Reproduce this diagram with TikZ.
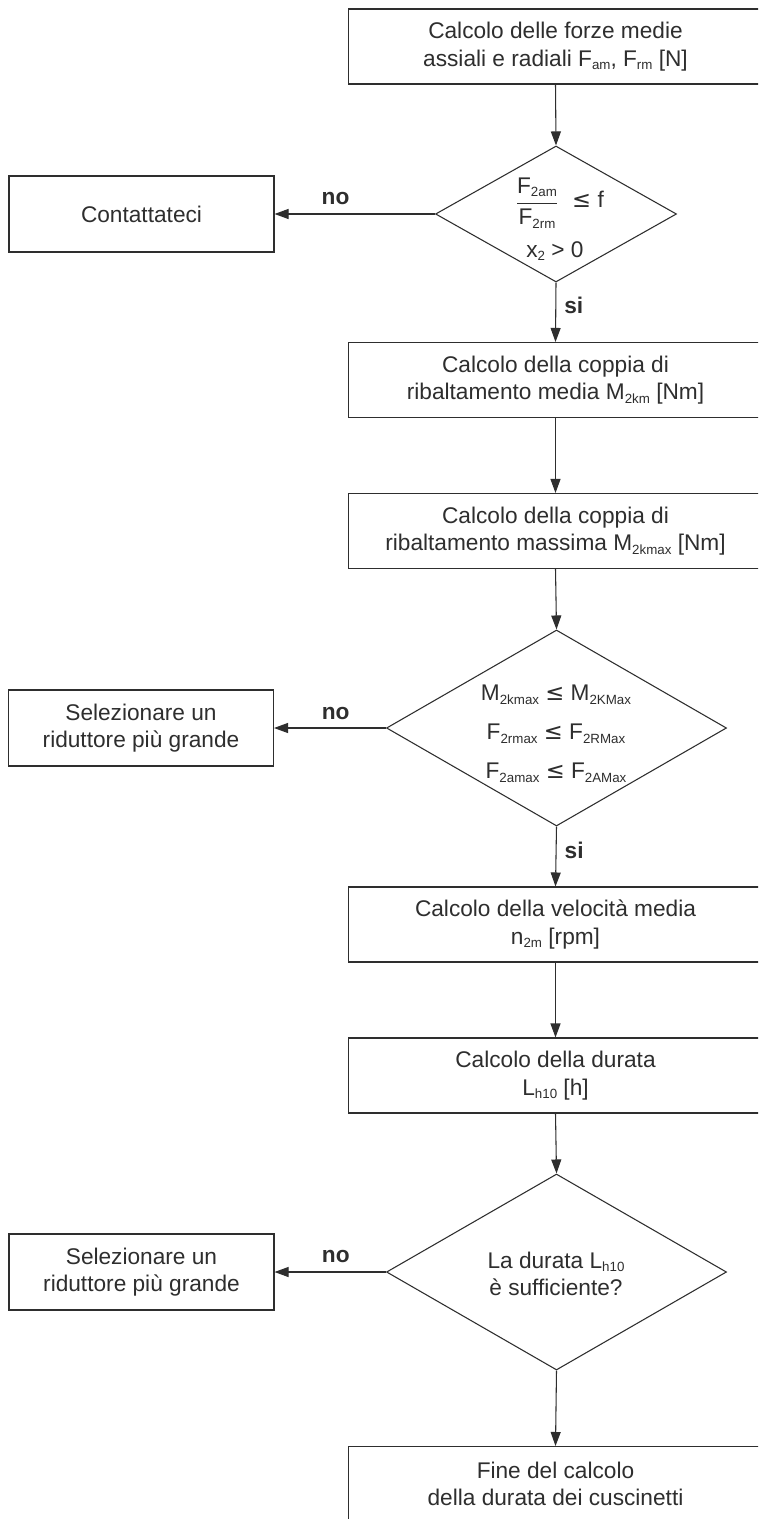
\documentclass[tikz,border=0pt]{standalone}
\usepackage{fontspec}
\setmainfont{Liberation Sans}
\newfontfamily\symfont{DejaVu Sans}
\usetikzlibrary{shapes.geometric,arrows.meta}
\definecolor{ink}{HTML}{2E2E2E}
\newcommand\lowsub[1]{\raisebox{-0.3ex}{\fontsize{10}{10}\selectfont #1}}
\newcommand\leqs{{\symfont ≤}}
\begin{document}
\begin{tikzpicture}[x=0.75pt,y=-0.75pt,
  every node/.style={text=ink, font=\fontsize{17}{20.7}\selectfont},
  box/.style={draw=ink, line width=0.8pt, minimum width=310.5pt, minimum height=56.25pt, inner sep=0pt, align=center},
  sidebox/.style={box, minimum width=198.75pt, minimum height=57pt},
  dec/.style={draw=ink, line width=0.8pt, diamond, inner sep=0pt, minimum width=255pt, minimum height=147pt},
  txt/.style={inner sep=0pt, align=center},
  flow/.style={draw=ink, line width=0.8pt, -{Triangle[length=10.5pt,width=7.5pt]}},
  lab/.style={font=\bfseries\fontsize{17}{20}\selectfont, inner sep=0pt}
]
\useasboundingbox (0,0) rectangle (758,1519);
\clip (0,0) rectangle (758,1519);
\fill[white] (0,0) rectangle (758,1519);

% main column
\node[box] (b1) at (555.5,46.5) {Calcolo delle forze medie\\assiali e radiali F\lowsub{am}, F\lowsub{rm} [N]};
\node[dec, minimum width=180.75pt, minimum height=102pt] (d1) at (556,214) {};
\node[txt] (d1frac) at (537,203) {$\displaystyle\frac{\mbox{F\lowsub{2am}}}{\mbox{F\lowsub{2rm}}}$};
\node[txt] (d1leq) at (588,199) {\leqs\ f};
\node[txt] (d1x) at (555,251) {x\lowsub{2} > 0};
\node[sidebox] (c1) at (141.5,214) {Contattateci};

\node[box] (b2) at (555.5,380) {Calcolo della coppia di\\ribaltamento media M\lowsub{2km} [Nm]};
\node[box] (b3) at (555.5,531) {Calcolo della coppia di\\ribaltamento massima M\lowsub{2kmax} [Nm]};

\node[dec] (d2) at (556.5,728) {};
\node[txt] (d2a) at (556,695) {M\lowsub{2kmax} \leqs\ M\lowsub{2KMax}};
\node[txt] (d2b) at (556,734) {F\lowsub{2rmax} \leqs\ F\lowsub{2RMax}};
\node[txt] (d2c) at (556,773) {F\lowsub{2amax} \leqs\ F\lowsub{2AMax}};
\node[sidebox] (s1) at (141,728) {Selezionare un\\riduttore più grande};

\node[box] (b4) at (555.5,924.5) {Calcolo della velocità media\\n\lowsub{2m} [rpm]};
\node[box] (b5) at (555.5,1075.5) {Calcolo della durata\\L\lowsub{h10} [h]};

\node[dec] (d3) at (556.5,1272) {};
\node[txt] (d3t) at (556,1274) {La durata L\lowsub{h10}\\è sufficiente?};
\node[sidebox] (s2) at (141.5,1272) {Selezionare un\\riduttore più grande};

\node[box] (b6) at (555.5,1484) {Fine del calcolo\\della durata dei cuscinetti};

% connectors
\draw[flow] (b1.south) -- (d1.north);
\draw[flow] (d1.west) -- (c1.east) node[lab, pos=0.62, above=6.5pt] {no};
\draw[flow] (d1.south) -- (b2.north) node[lab, pos=0.38, right=6pt] {si};
\draw[flow] (b2.south) -- (b3.north);
\draw[flow] (b3.south) -- (d2.north);
\draw[flow] (d2.west) -- (s1.east) node[lab, pos=0.45, above=6pt] {no};
\draw[flow] (d2.south) -- (b4.north) node[lab, pos=0.39, right=6pt] {si};
\draw[flow] (b4.south) -- (b5.north);
\draw[flow] (b5.south) -- (d3.north);
\draw[flow] (d3.west) -- (s2.east) node[lab, pos=0.45, above=6.5pt] {no};
\draw[flow] (d3.south) -- (b6.north);
\end{tikzpicture}
\end{document}
